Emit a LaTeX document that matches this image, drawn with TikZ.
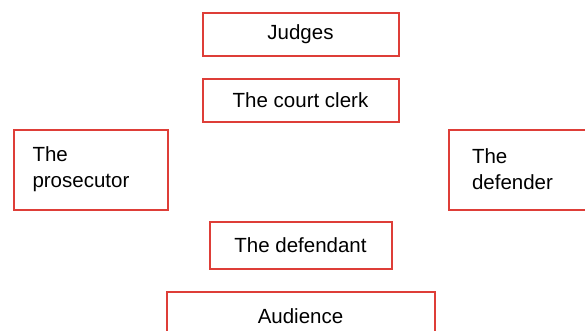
\documentclass[tikz,border=0pt]{standalone}
\usepackage{fontspec}
\setmainfont{Liberation Sans}
\definecolor{boxred}{RGB}{222,62,56}
\begin{document}
\begin{tikzpicture}[x=1pt,y=-1pt,
  box/.style={draw=boxred, line width=2pt, inner sep=0pt, font=\fontsize{20.5}{26}\selectfont},
  twoline/.style={box, align=left, inner ysep=0pt, minimum height=80pt}]
\useasboundingbox (0,0) rectangle (585,330);
\node[box, minimum width=196pt, minimum height=43pt] (judges) at (300.5,34) {Judges};
\node[box, minimum width=196pt, minimum height=43pt] (clerk) at (300.5,100) {The court clerk};
\node[twoline, text width=116pt, inner xsep=19pt] (prosecutor) at (90.5,169.5) {The\\prosecutor};
\node[twoline, text width=100pt, inner xsep=23pt] (defender) at (522,169.5) {The\\defender};
\node[box, minimum width=182pt, minimum height=47pt] (defendant) at (300.5,245) {The defendant};
\node[box, minimum width=268pt, minimum height=48pt] (audience) at (300.5,316) {Audience};
\end{tikzpicture}
\end{document}
